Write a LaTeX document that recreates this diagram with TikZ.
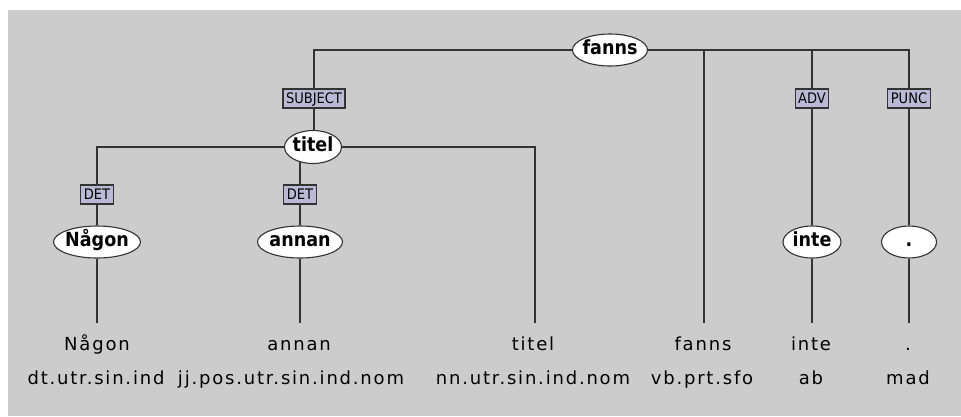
\documentclass[tikz,border=0pt]{standalone}
\usepackage{fontspec}
\setmainfont{DejaVu Sans}
\newfontfamily\wordfont[LetterSpace=10]{DejaVu Sans}
\newfontfamily\nodefont{DejaVu Sans Condensed}
\usetikzlibrary{shapes.geometric,backgrounds}
\definecolor{bg}{HTML}{CCCCCC}
\definecolor{lbl}{HTML}{BABAD6}
\definecolor{ln}{HTML}{333333}
\newcommand\lem[1]{\makebox[0pt]{#1}}
\tikzset{
 lemma/.style={ellipse, draw=ln, line width=1.1pt, fill=white, inner sep=0pt, minimum height=32, text height=13.5, text depth=4, font=\nodefont\bfseries\fontsize{19.5}{19.5}\selectfont},
 rel/.style={rectangle, draw=ln, line width=1.1pt, fill=lbl, inner xsep=3pt, inner ysep=0pt, minimum height=19, text height=10.5, text depth=0, font=\nodefont\fontsize{14.5}{14.5}\selectfont},
 word/.style={font=\wordfont\fontsize{18}{18}\selectfont, inner sep=0pt, anchor=base},
 edge/.style={draw=ln, line width=1.5pt}
}
\begin{document}
\begin{tikzpicture}[x=1pt,y=-1pt]
\useasboundingbox (0,0) rectangle (961,416);
\begin{pgfonlayer}{background}
\fill[bg] (8,10) rectangle (961,416);
\end{pgfonlayer}
% tree nodes
\node[lemma, minimum width=75] (fanns) at (610,50) {\lem{fanns}};
\node[rel] (subj) at (314,98.5) {SUBJECT};
\node[lemma, minimum width=57, minimum height=33] (titel) at (313,147) {\lem{titel}};
\node[rel] (detA) at (97,194.5) {DET};
\node[rel] (detB) at (300,194.5) {DET};
\node[lemma, minimum width=87] (nagon) at (97,242) {\lem{Någon}};
\node[lemma, minimum width=85] (annan) at (300,242) {\lem{annan}};
\node[rel] (adv) at (812,98.5) {ADV};
\node[rel] (punc) at (909,98.5) {PUNC};
\node[lemma, minimum width=58] (inte) at (812,242) {\lem{inte}};
\node[lemma, minimum width=55] (dot) at (909,242) {\lem{.}};
% line ends
\coordinate (e1) at (97,323);
\coordinate (e2) at (300,323);
\coordinate (e3) at (535,323);
\coordinate (e4) at (704,323);
\coordinate (e5) at (812,323);
\coordinate (e6) at (909,323);
% words
\node[word] (w1) at (97,350) {Någon};
\node[word] (w2) at (299,350) {annan};
\node[word] (w3) at (533,350) {titel};
\node[word] (w4) at (703,350) {fanns};
\node[word] (w5) at (811,350) {inte};
\node[word] (w6) at (908,350) {.};
\node[word] (t1) at (96,384) {dt.utr.sin.ind};
\node[word] (t2) at (291,384) {jj.pos.utr.sin.ind.nom};
\node[word] (t3) at (533,384) {nn.utr.sin.ind.nom};
\node[word] (t4) at (702,384) {vb.prt.sfo};
\node[word] (t5) at (811,384) {ab};
\node[word] (t6) at (908,384) {mad};
% connectors
\begin{pgfonlayer}{background}
\draw[edge] (fanns) -| (subj);
\draw[edge] (fanns) -| (e4);
\draw[edge] (fanns) -| (adv);
\draw[edge] (fanns) -| (punc);
\draw[edge] (subj) -- (subj |- titel.north);
\draw[edge] (titel) -| (detA);
\draw[edge] (titel.center -| detB) -- (detB);
\draw[edge] (titel) -| (e3);
\draw[edge] (detA) -- (nagon);
\draw[edge] (nagon) -- (e1);
\draw[edge] (detB) -- (annan);
\draw[edge] (annan) -- (e2);
\draw[edge] (adv) -- (inte);
\draw[edge] (inte) -- (e5);
\draw[edge] (punc) -- (dot);
\draw[edge] (dot) -- (e6);
\end{pgfonlayer}
\end{tikzpicture}
\end{document}
